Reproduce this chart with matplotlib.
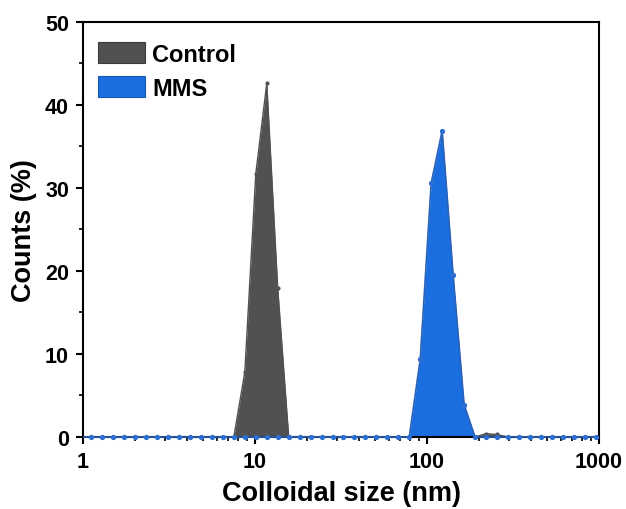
import matplotlib
matplotlib.use("Agg")
import matplotlib.pyplot as plt
from matplotlib.patches import Patch
from matplotlib.ticker import LogLocator, MultipleLocator, FixedLocator
from matplotlib.transforms import Bbox, TransformedBbox

plt.rcParams['font.family'] = ['Liberation Sans', 'DejaVu Sans']
plt.rcParams['font.weight'] = 'bold'

sizes = [0.9649, 1.117, 1.294, 1.499, 1.736, 2.010, 2.328, 2.696, 3.122, 3.615,
         4.187, 4.849, 5.615, 6.503, 7.531, 8.721, 10.10, 11.70, 13.54, 15.69,
         18.17, 21.04, 24.36, 28.21, 32.67, 37.84, 43.82, 50.75, 58.77, 68.06,
         78.82, 91.28, 105.7, 122.4, 141.8, 164.2, 190.1, 220.2, 255.0, 295.3,
         342.0, 396.1, 458.7, 531.2, 615.1, 712.4, 825.0, 955.4, 1106.0]
control = [0, 0, 0, 0, 0, 0, 0, 0, 0, 0,
           0, 0, 0, 0, 0, 7.8, 31.7, 42.6, 18.0, 0,
           0, 0, 0, 0, 0, 0, 0, 0, 0, 0,
           0, 0, 0, 0, 0, 0, 0, 0.4, 0.3, 0,
           0, 0, 0, 0, 0, 0, 0, 0, 0]
mms = [0, 0, 0, 0, 0, 0, 0, 0, 0, 0,
       0, 0, 0, 0, 0, 0, 0, 0, 0, 0,
       0, 0, 0, 0, 0, 0, 0, 0, 0, 0,
       0, 9.4, 30.6, 36.9, 19.5, 3.9, 0, 0, 0, 0,
       0, 0, 0, 0, 0, 0, 0, 0, 0]
labels = ['Control', 'MMS']
gray = '#515151'
blue = '#1b6ee0'

fig = plt.figure(figsize=(6.26, 5.10), dpi=100)
ax = fig.add_axes([0.1326, 0.1412, 0.8244, 0.8137])

ax.fill_between(sizes, control, 0, color=gray, lw=0, zorder=2)
ax.plot(sizes, control, color=gray, lw=1, marker='o', ms=2, zorder=3)
ax.fill_between(sizes, mms, 0, color=blue, lw=0, zorder=4)
ax.set_xscale('log')
ax.set_xlim(1, 1000)
ax.set_ylim(0, 50)
line, = ax.plot(sizes, mms, color='#2a62b8', lw=1.2, marker='o', ms=2.8,
                mfc='#2f6fd0', mec='#2f6fd0', zorder=11)
clipbox = TransformedBbox(Bbox([[0, -0.02], [1, 1]]), ax.transAxes)
line.set_clip_box(clipbox)

ax.yaxis.set_major_locator(MultipleLocator(10))
ax.yaxis.set_minor_locator(MultipleLocator(5))
ax.xaxis.set_major_locator(FixedLocator([1, 10, 100, 1000]))
ax.xaxis.set_minor_locator(LogLocator(base=10, subs=range(2, 10)))
ax.set_xticklabels(['1', '10', '100', '1000'])

for s in ax.spines.values():
    s.set_linewidth(1.5)
    s.set_zorder(10)
ax.tick_params(which='major', direction='out', length=5, width=1.5, labelsize=15.5, pad=5)
ax.tick_params(which='minor', direction='out', length=3, width=1.2)
ax.tick_params(axis='both', which='both', top=False, right=False)
for t in ax.get_xticklabels() + ax.get_yticklabels():
    t.set_fontweight('bold')

ax.set_xlabel('Colloidal size (nm)', fontsize=19.5, fontweight='bold', labelpad=6)
ax.set_ylabel('Counts (%)', fontsize=19.5, fontweight='bold', labelpad=6)

handles = [Patch(facecolor=gray, edgecolor='#3a3a3a', lw=0.8),
           Patch(facecolor=blue, edgecolor='#1558b0', lw=0.8)]
ax.legend(handles, labels, loc='upper left', bbox_to_anchor=(0.029, 0.952),
          frameon=False, handlelength=2.0, handleheight=1.0, handletextpad=0.3,
          labelspacing=0.45, borderpad=0, borderaxespad=0,
          prop={'weight': 'bold', 'size': 17})

fig.savefig('out.png', dpi=100)
